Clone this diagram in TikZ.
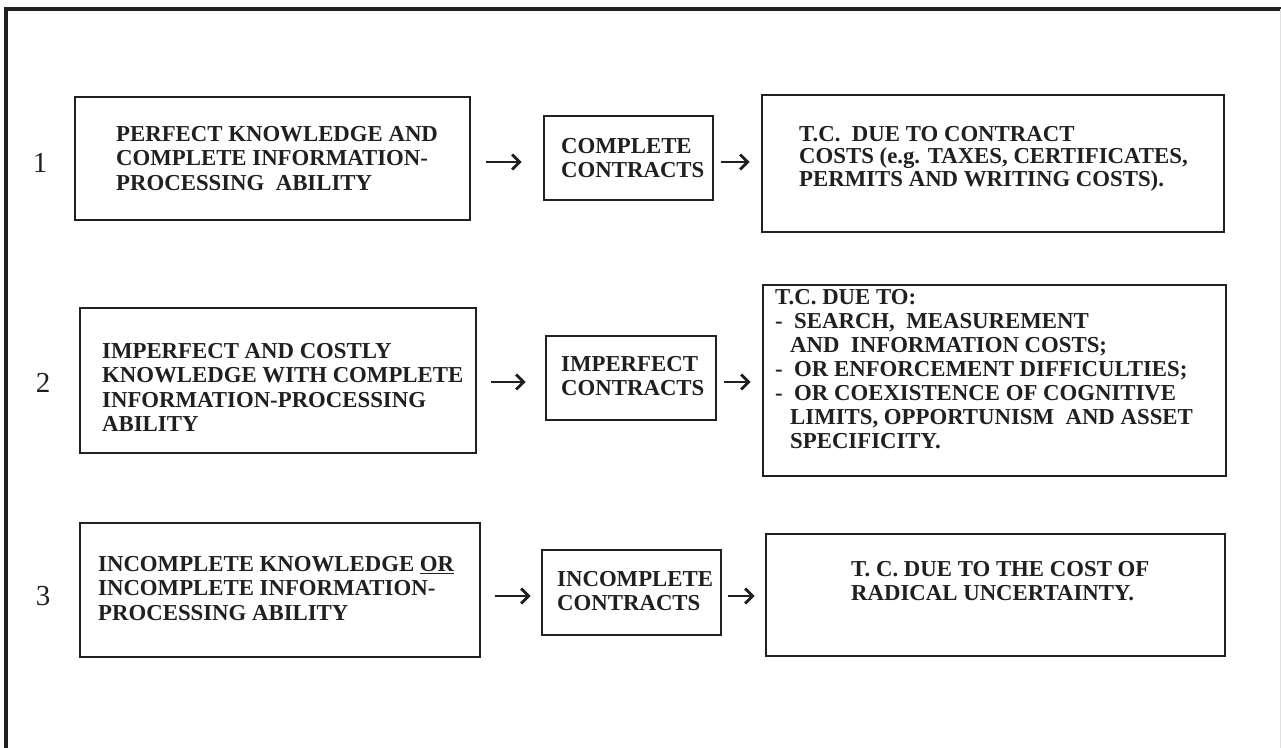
\documentclass[tikz,border=0pt]{standalone}
\usepackage{fontspec}
\setmainfont{Liberation Serif}
\usetikzlibrary{arrows.meta}
\definecolor{ink}{RGB}{35,31,32}
\begin{document}
\begin{tikzpicture}[x=1pt,y=-1pt,
  box/.style={draw=ink, line width=2.7pt, inner sep=0pt, minimum width=#1},
  txt/.style={anchor=north west, inner sep=0pt, align=left, text=ink,
    font=\fontsize{22.8}{24.5}\selectfont\bfseries},
  num/.style={inner sep=0pt, text=ink, font=\fontsize{29}{30}\selectfont},
  arr/.style={draw=ink, line width=2.8pt, -{Straight Barb[length=7.5pt,width=15pt]}},
  frame/.style={draw=ink, line width=3.2pt}]
\useasboundingbox (0,0) rectangle (1281,747);
\fill[white] (0,0) rectangle (1281,747);

% outer frame (open to the right and bottom)
\draw[frame] (6,760) -- (6,9) -- (1290,9);
\draw[black!12, line width=1pt] (1280,9) -- (1280,760);

% row numbers
\node[num] (n1) at (40,163) {1};
\node[num] (n2) at (43,383) {2};
\node[num] (n3) at (43,596) {3};

% arrow heights
\coordinate (r1) at (0,162);
\coordinate (r2) at (0,382);
\coordinate (r3) at (0,596);

% row 1
\node[box=395pt, minimum height=123pt] (A1) at (272.5,158.5) {};
\node[box=169pt, minimum height=84pt]  (B1) at (628.5,158) {};
\node[box=462pt, minimum height=137pt] (C1) at (993,163.5) {};
\node[txt] (tA1) at (116,126) {PERFECT KNOWLEDGE AND\\COMPLETE INFORMATION-\\PROCESSING\ \ ABILITY};
\node[txt] (tB1) at (561,138) {COMPLETE\\CONTRACTS};
\node[txt, font=\fontsize{22.8}{22.5}\selectfont\bfseries] (tC1) at (799,126)
  {T.C.\ \ DUE TO CONTRACT\\COSTS (e.g. TAXES, CERTIFICATES,\\PERMITS AND WRITING COSTS).};

% row 2
\node[box=396pt, minimum height=145pt] (A2) at (278,380.5) {};
\node[box=170pt, minimum height=84pt]  (B2) at (631,378) {};
\node[box=463pt, minimum height=191pt] (C2) at (994.5,380.5) {};
\node[txt] (tA2) at (102,343) {IMPERFECT AND COSTLY\\KNOWLEDGE WITH COMPLETE\\INFORMATION-PROCESSING\\ABILITY};
\node[txt] (tB2) at (561,356) {IMPERFECT\\CONTRACTS};
\node[txt, font=\fontsize{22.8}{24}\selectfont\bfseries] (tC2) at (775,289)
  {T.C. DUE TO:\\
   -\ \ SEARCH,\ \ MEASUREMENT\\
   \hspace*{15pt}AND\ \ INFORMATION COSTS;\\
   -\ \ OR ENFORCEMENT DIFFICULTIES;\\
   -\ \ OR COEXISTENCE OF COGNITIVE\\
   \hspace*{15pt}LIMITS, OPPORTUNISM\ \ AND ASSET\\
   \hspace*{15pt}SPECIFICITY.};

% row 3
\node[box=400pt, minimum height=134pt] (A3) at (280,590) {};
\node[box=179pt, minimum height=85pt]  (B3) at (631.5,592.5) {};
\node[box=459pt, minimum height=122pt] (C3) at (995.5,595) {};
\node[txt] (tA3) at (98,556) {INCOMPLETE KNOWLEDGE \underline{OR}\\INCOMPLETE INFORMATION-\\PROCESSING ABILITY};
\node[txt] (tB3) at (557,571) {INCOMPLETE\\CONTRACTS};
\node[txt] (tC3) at (851,561) {T. C. DUE TO THE COST OF\\RADICAL UNCERTAINTY.};

% connectors
\draw[arr, shorten <=15pt, shorten >=21pt] (A1.east |- r1) -- (B1.west |- r1);
\draw[arr, shorten <=7pt,  shorten >=11pt] (B1.east |- r1) -- (C1.west |- r1);
\draw[arr, shorten <=14pt, shorten >=19pt] (A2.east |- r2) -- (B2.west |- r2);
\draw[arr, shorten <=7pt,  shorten >=11pt] (B2.east |- r2) -- (C2.west |- r2);
\draw[arr, shorten <=14pt, shorten >=10pt] (A3.east |- r3) -- (B3.west |- r3);
\draw[arr, shorten <=6pt,  shorten >=10pt] (B3.east |- r3) -- (C3.west |- r3);
\end{tikzpicture}
\end{document}
